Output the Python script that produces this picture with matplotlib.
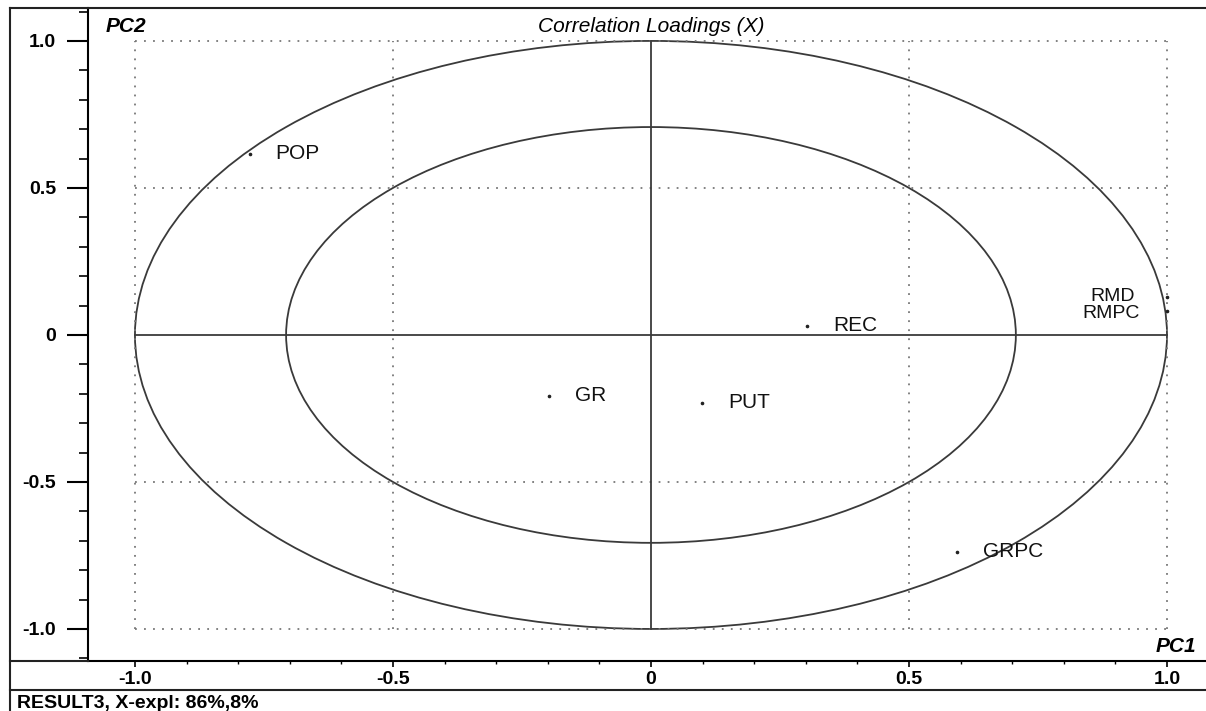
import numpy as np
import matplotlib
matplotlib.use("Agg")
import matplotlib.pyplot as plt
from matplotlib.patches import Ellipse
from matplotlib.lines import Line2D
from matplotlib.ticker import MultipleLocator

plt.rcParams['font.family'] = ['Liberation Sans', 'DejaVu Sans']
plt.rcParams['axes.unicode_minus'] = False

# loadings
names = ['POP', 'REC', 'GR', 'PUT', 'GRPC', 'RMD', 'RMPC']
pc1 = [-0.778, 0.302, -0.197, 0.099, 0.594, 1.0, 1.0]
pc2 = [0.616, 0.031, -0.207, -0.231, -0.738, 0.13, 0.08]
label_dx = [26, 26, 26, 26, 26, -32, -27]   # pixels
label_dy = [0, 0, 0, 0, 0, 0, -2]
label_size = [15, 15, 15, 15, 15, 14, 14]

major = [-1.0, -0.5, 0.0, 0.5, 1.0]
major_labels = ['-1.0', '-0.5', '0', '0.5', '1.0']
grid_pos = [-1.0, -0.5, 0.5, 1.0]

W, H = 1206, 711
fig = plt.figure(figsize=(W / 100, H / 100), dpi=100)
ax = fig.add_axes([88 / W, (H - 661) / H, (W - 88) / W, (661 - 8) / H])
ax.set_xlim(-1.091, 1.0756)
ax.set_ylim(-1.109, 1.112)

line_col = '#3a3a3a'
# dotted grid inside the unit square
ax.hlines(grid_pos, -1, 1, colors='#777777', linestyles=(0, (1, 4)), lw=1.3)
ax.vlines(grid_pos, -1, 1, colors='#777777', linestyles=(0, (1, 4)), lw=1.3)

# 100% and 50% explained variance ellipses
ax.add_patch(Ellipse((0, 0), 2, 2, fill=False, ec=line_col, lw=1.3))
r50 = np.sqrt(0.5)
ax.add_patch(Ellipse((0, 0), 2 * r50, 2 * r50, fill=False, ec=line_col, lw=1.3))
ax.plot([-1, 1], [0, 0], color=line_col, lw=1.3)
ax.plot([0, 0], [-1, 1], color=line_col, lw=1.3)

ax.plot(pc1, pc2, 'o', color='#222222', markersize=1.6, ls='none')
for n, x, y, dx, dy, fs in zip(names, pc1, pc2, label_dx, label_dy, label_size):
    ax.annotate(n, (x, y), xytext=(dx, dy), textcoords='offset pixels',
                ha='left' if dx > 0 else 'right', va='center', fontsize=fs,
                color='#111111')

ax.set_xticks(major)
ax.set_xticklabels(major_labels)
ax.set_yticks(major)
ax.set_yticklabels(major_labels)
ax.xaxis.set_minor_locator(MultipleLocator(0.1))
ax.yaxis.set_minor_locator(MultipleLocator(0.1))
ax.tick_params(axis='y', which='major', direction='out', length=15, width=1.5, pad=8,
               labelsize=14)
ax.tick_params(axis='y', which='minor', direction='out', length=6.5, width=1.2)
ax.tick_params(axis='x', which='major', direction='out', length=4.5, width=1.2, pad=3,
               labelsize=14)
ax.tick_params(axis='x', which='minor', direction='out', length=2.5, width=1.0)
for lab in ax.get_xticklabels() + ax.get_yticklabels():
    lab.set_fontweight('bold')

for s in ['top', 'right']:
    ax.spines[s].set_visible(False)
ax.spines['left'].set_linewidth(1.5)
ax.spines['bottom'].set_linewidth(1.5)

# titles
fig.text(651 / W, (H - 26) / H, 'Correlation Loadings (X)', fontsize=15, style='italic',
         ha='center', va='center')
fig.text(106 / W, (H - 26) / H, 'PC2', fontsize=15, style='italic', fontweight='bold',
         ha='left', va='center')
fig.text(1196 / W, (H - 647) / H, 'PC1', fontsize=15, style='italic', fontweight='bold',
         ha='right', va='center')
fig.text(17 / W, (H - 703) / H, 'RESULT3, X-expl: 86%,8%', fontsize=14, fontweight='bold',
         ha='left', va='center')


# outer frame
def px_line(x0, y0, x1, y1):
    fig.add_artist(Line2D([x0 / W, x1 / W], [(H - y0) / H, (H - y1) / H],
                          color='#222222', lw=1.5))


px_line(10, 8, W, 8)
px_line(10, 8, 10, H)
px_line(10, 661, 88, 661)
px_line(10, 690, W, 690)

fig.savefig('out.png', dpi=100)
